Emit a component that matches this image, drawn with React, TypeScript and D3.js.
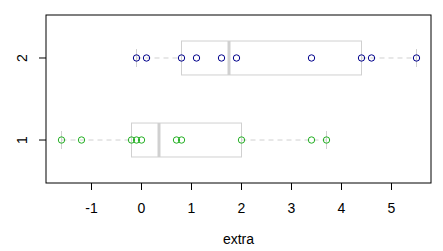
import React from "react";
import * as d3 from "d3";

const groups = ["1", "2"];
const extra1 = [0.7, -1.6, -0.2, -1.2, -0.1, 3.4, 3.7, 0.8, 0.0, 2.0];
const extra2 = [1.9, 0.8, 1.1, 0.1, -0.1, 4.4, 5.5, 1.6, 4.6, 3.4];
const xTicks = [-1, 0, 1, 2, 3, 4, 5];
const pointColors = ["#22b022", "#00008b"];

function stats(v: number[]) {
  const s = [...v].sort((a, b) => a - b);
  const n = s.length;
  const med = (a: number[]) => d3.median(a) as number;
  const half = Math.floor((n + 1) / 2);
  const lo = med(s.slice(0, half));
  const hi = med(s.slice(n - half));
  return { min: s[0], q1: lo, med: med(s), q3: hi, max: s[n - 1] };
}

export default function App() {
  const W = 443, H = 251;
  const left = 46, right = 431, top = 15, bottom = 183;
  const x = d3.scaleLinear().domain([-1.91, 5.79]).range([left, right]);
  const y = d3.scaleLinear().domain([0.476, 2.524]).range([bottom, top]);
  const data = [extra1, extra2];
  const bw = 0.207;
  const font = "Liberation Sans, Arial, sans-serif";
  const gray = "#d0d0d0";
  return (
    <svg width={W} height={H} style={{ position: "absolute", left: 0, top: 0, background: "#fff" }}>
      {data.map((vals, i) => {
        const st = stats(vals);
        const g = i + 1;
        const yc = y(g);
        const y0 = y(g + bw), y1 = y(g - bw);
        return (
          <g key={i}>
            <line x1={x(st.min)} x2={x(st.q1)} y1={yc} y2={yc} stroke={gray} strokeDasharray="5,4" />
            <line x1={x(st.q3)} x2={x(st.max)} y1={yc} y2={yc} stroke={gray} strokeDasharray="5,4" />
            <line x1={x(st.min)} x2={x(st.min)} y1={yc - 9} y2={yc + 9} stroke={gray} />
            <line x1={x(st.max)} x2={x(st.max)} y1={yc - 9} y2={yc + 9} stroke={gray} />
            <rect x={x(st.q1)} y={y0} width={x(st.q3) - x(st.q1)} height={y1 - y0} fill="none" stroke={gray} />
            <line x1={x(st.med)} x2={x(st.med)} y1={y0} y2={y1} stroke={gray} strokeWidth={3} />
            {vals.map((v, j) => (
              <circle key={j} cx={x(v)} cy={yc} r={3.2} fill="none" stroke={pointColors[i]} strokeWidth={1} />
            ))}
          </g>
        );
      })}
      <rect x={left} y={top} width={right - left} height={bottom - top} fill="none" stroke="#000" />
      {xTicks.map((t) => (
        <g key={t}>
          <line x1={x(t)} x2={x(t)} y1={bottom} y2={bottom + 7} stroke="#000" />
          <text x={x(t)} y={213} textAnchor="middle" fontFamily={font} fontSize={14}>{t}</text>
        </g>
      ))}
      {groups.map((gname, i) => (
        <g key={gname}>
          <line x1={left - 7} x2={left} y1={y(i + 1)} y2={y(i + 1)} stroke="#000" />
          <text transform={`translate(27,${y(i + 1)}) rotate(-90)`} textAnchor="middle" fontFamily={font} fontSize={14}>{gname}</text>
        </g>
      ))}
      <text x={(left + right) / 2} y={244} textAnchor="middle" fontFamily={font} fontSize={14}>extra</text>
    </svg>
  );
}
